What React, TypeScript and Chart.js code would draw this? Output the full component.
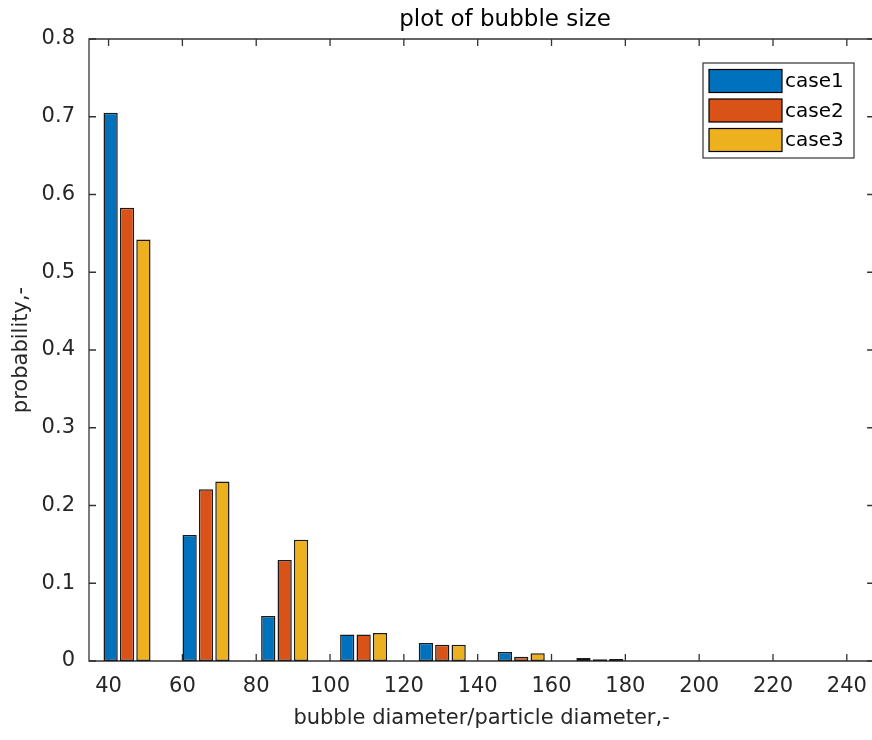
import React, { useEffect, useRef } from 'react';
import { Chart, registerables } from 'chart.js';

Chart.register(...registerables);

// ---- data ----
const groupCenters = [45, 66.4, 87.7, 109.1, 130.4, 151.8, 173.1];
const case1 = [0.705, 0.162, 0.058, 0.034, 0.023, 0.0116, 0.0039];
const case2 = [0.583, 0.221, 0.13, 0.034, 0.021, 0.0055, 0.0022];
const case3 = [0.542, 0.231, 0.156, 0.036, 0.021, 0.0099, 0.0026];
const seriesLabels = ['case1', 'case2', 'case3'];
const xTickValues = [40, 60, 80, 100, 120, 140, 160, 180, 200, 220, 240];
const yTickValues = [0, 0.1, 0.2, 0.3, 0.4, 0.5, 0.6, 0.7, 0.8];
const titleText = 'plot of bubble size';
const xAxisTitle = 'bubble diameter/particle diameter,-';
const yAxisTitle = 'probability,-';

// ---- style ----
const FONT = '"DejaVu Sans", "Liberation Sans", Arial, sans-serif';
const AXIS_COLOR = '#333333';
const TEXT_COLOR = '#262626';
const seriesColors = ['#0072BD', '#D95319', '#EDB120'];

const boxAndTicks = {
  id: 'boxAndTicks',
  beforeDatasetsDraw(chart: any) {
    const { ctx, chartArea } = chart;
    const { left, right, top, bottom } = chartArea;
    const xs = chart.scales.x;
    const ys = chart.scales.y;
    const tl = 7;
    ctx.save();
    ctx.strokeStyle = AXIS_COLOR;
    ctx.lineWidth = 1.3;
    ctx.beginPath();
    ctx.rect(left, top, right - left, bottom - top);
    ctx.stroke();
    ctx.beginPath();
    xs.ticks.forEach((t: any) => {
      const px = xs.getPixelForValue(t.value);
      ctx.moveTo(px, bottom);
      ctx.lineTo(px, bottom - tl);
      ctx.moveTo(px, top);
      ctx.lineTo(px, top + tl);
    });
    ys.ticks.forEach((t: any) => {
      const py = ys.getPixelForValue(t.value);
      ctx.moveTo(left, py);
      ctx.lineTo(left + tl, py);
      ctx.moveTo(right, py);
      ctx.lineTo(right - tl, py);
    });
    ctx.stroke();
    ctx.restore();
  },
};

const titleAndLegend = {
  id: 'titleAndLegend',
  afterDraw(chart: any) {
    const { ctx } = chart;
    ctx.save();
    // title
    ctx.fillStyle = '#000';
    ctx.font = `23px ${FONT}`;
    ctx.textAlign = 'center';
    ctx.textBaseline = 'alphabetic';
    ctx.fillText(titleText, 505, 26);

    // legend
    const bx = 703, by = 63, bw = 151, bh = 95;
    ctx.fillStyle = '#ffffff';
    ctx.fillRect(bx, by, bw, bh);
    ctx.strokeStyle = AXIS_COLOR;
    ctx.lineWidth = 1.2;
    ctx.strokeRect(bx, by, bw, bh);
    ctx.font = `20px ${FONT}`;
    ctx.textAlign = 'left';
    ctx.textBaseline = 'middle';
    chart.data.datasets.forEach((ds: any, i: number) => {
      const cy = 81 + i * 29.5;
      ctx.fillStyle = ds.backgroundColor;
      ctx.fillRect(709, cy - 11.5, 73, 23);
      ctx.strokeStyle = '#000';
      ctx.lineWidth = 1.2;
      ctx.strokeRect(709, cy - 11.5, 73, 23);
      ctx.fillStyle = '#000';
      ctx.fillText(ds.label, 785, cy + 1);
    });
    ctx.restore();
  },
};

export default function App() {
  const ref = useRef<HTMLCanvasElement | null>(null);

  useEffect(() => {
    if (!ref.current) return;
    Chart.defaults.font.family = FONT;
    const seriesValues = [case1, case2, case3];
    const chart = new Chart(ref.current, {
      type: 'bar',
      data: {
        datasets: seriesLabels.map((label, i) => ({
          label,
          data: groupCenters.map((x, j) => ({ x, y: seriesValues[i][j] })),
          backgroundColor: seriesColors[i],
          borderColor: '#1a1a1a',
          borderWidth: 1.5,
          borderSkipped: false,
          categoryPercentage: 0.666,
          barPercentage: 0.87,
        })),
      },
      options: {
        responsive: false,
        animation: false,
        events: [],
        layout: { padding: { top: 39, right: 4, left: 0, bottom: 0 } },
        plugins: {
          legend: { display: false },
          tooltip: { enabled: false },
          title: { display: false },
        },
        scales: {
          x: {
            type: 'linear',
            min: 34.7,
            max: 247.4,
            offset: false,
            grid: { display: false, drawTicks: false },
            border: { display: false },
            afterBuildTicks: (s: any) => {
              s.ticks = xTickValues.map((v) => ({ value: v }));
            },
            afterFit: (s: any) => {
              s.height = 79;
            },
            ticks: {
              autoSkip: false,
              maxRotation: 0,
              padding: 13,
              color: TEXT_COLOR,
              font: { size: 21, family: FONT },
              callback: (v: any) => String(v),
            },
            title: {
              display: true,
              text: xAxisTitle,
              color: TEXT_COLOR,
              font: { size: 21, family: FONT },
              padding: { top: 0, bottom: 9 },
            },
          },
          y: {
            type: 'linear',
            min: 0,
            max: 0.8,
            grid: { display: false, drawTicks: false },
            border: { display: false },
            afterBuildTicks: (s: any) => {
              s.ticks = yTickValues.map((v) => ({ value: v }));
            },
            afterFit: (s: any) => {
              s.width = 89;
            },
            ticks: {
              autoSkip: false,
              padding: 14,
              color: TEXT_COLOR,
              font: { size: 21, family: FONT },
              callback: (v: any) => String(v),
            },
            title: {
              display: true,
              text: yAxisTitle,
              color: TEXT_COLOR,
              font: { size: 21, family: FONT },
              padding: { top: 9, bottom: 0 },
            },
          },
        },
      } as any,
      plugins: [boxAndTicks, titleAndLegend],
    });
    return () => chart.destroy();
  }, []);

  return (
    <div
      style={{
        position: 'absolute',
        left: 0,
        top: 0,
        width: 872,
        height: 740,
        overflow: 'hidden',
        background: '#ffffff',
      }}
    >
      <canvas ref={ref} width={880} height={740} style={{ display: 'block' }} />
    </div>
  );
}
